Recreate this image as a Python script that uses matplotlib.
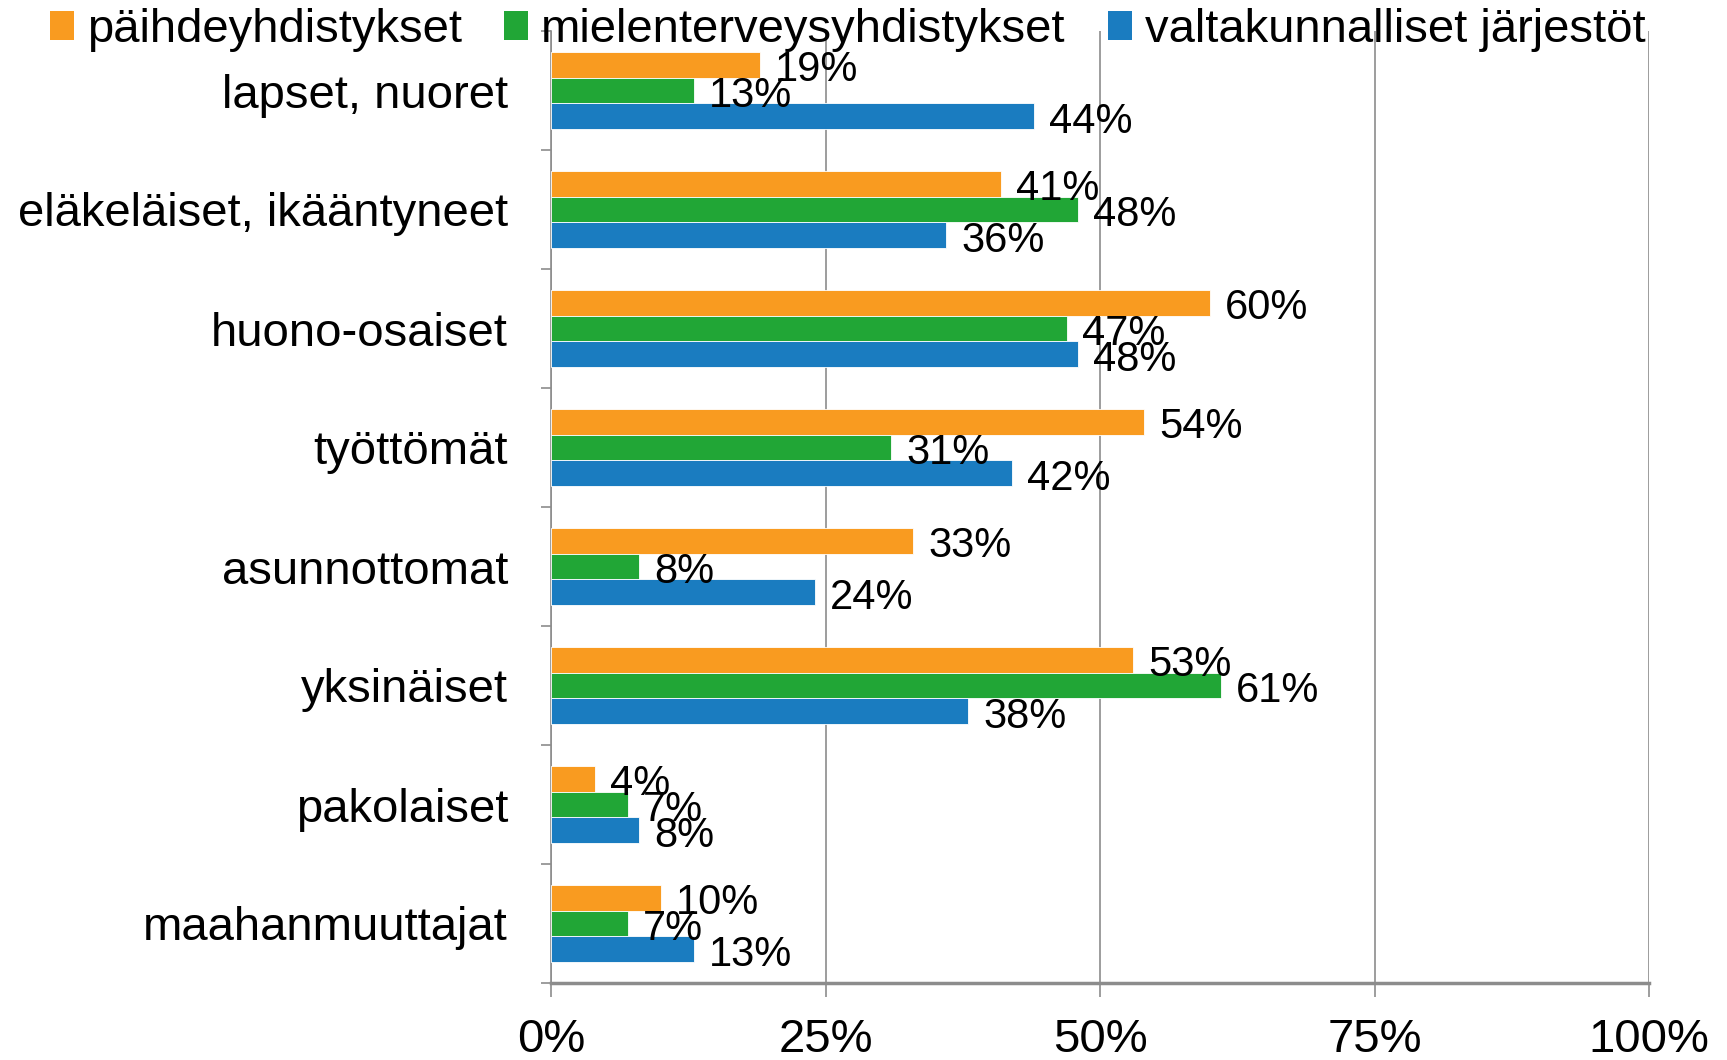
import numpy as np
import matplotlib as mpl
import matplotlib.pyplot as plt
from matplotlib.patches import Patch

mpl.use('Agg')

categories = ["lapset, nuoret", "eläkeläiset, ikääntyneet", "huono-osaiset",
              "työttömät", "asunnottomat", "yksinäiset", "pakolaiset",
              "maahanmuuttajat"]
series_names = ["päihdeyhdistykset", "mielenterveysyhdistykset",
                "valtakunnalliset järjestöt"]
paihde = [19, 41, 60, 54, 33, 53, 4, 10]
mielenterveys = [13, 48, 47, 31, 8, 61, 7, 7]
valtakunnalliset = [44, 36, 48, 42, 24, 38, 8, 13]
x_ticks = [0, 25, 50, 75, 100]

colors = ["#F99B20", "#21A636", "#1A7CC0"]
grid_col = "#8c8c8c"

plt.rcParams['font.family'] = ['Liberation Sans', 'DejaVu Sans']

fig = plt.figure(figsize=(17.27, 10.60), dpi=100)
ax = fig.add_axes([551 / 1727, 1 - 983 / 1060, (1649 - 551) / 1727, (983 - 31) / 1060])

y = np.arange(len(categories))
h = 0.216
for k, vals in enumerate([paihde, mielenterveys, valtakunnalliset]):
    pos = y + (k - 1) * h
    ax.barh(pos, vals, height=h, color=colors[k], edgecolor="white", linewidth=0.6, zorder=3)
    for p, v in zip(pos, vals):
        ax.annotate(f"{v}%", (v, p), xytext=(11, -4), textcoords="offset points",
                    ha="left", va="center", fontsize=30, color="black", zorder=4)

ax.set_xlim(0, 100)
ax.set_ylim(len(categories) - 0.5, -0.5)
ax.set_xticks(x_ticks)
ax.set_xticklabels([f"{t}%" for t in x_ticks], fontsize=34)
ax.tick_params(axis="x", length=10, width=1.2, color=grid_col, pad=15)
ax.grid(axis="x", color=grid_col, linewidth=1.2, zorder=0)
ax.set_axisbelow(True)

ax.set_yticks(y)
ax.set_yticklabels(categories, fontsize=34)
ax.set_yticks(np.arange(len(categories) + 1) - 0.5, minor=True)
ax.tick_params(axis="y", which="major", length=0, pad=31)
ax.tick_params(axis="y", which="minor", length=7, width=1.2, color=grid_col)

for side in ["top", "right"]:
    ax.spines[side].set_visible(False)
ax.spines["left"].set_color(grid_col)
ax.spines["left"].set_linewidth(1.2)
ax.spines["bottom"].set_color(grid_col)
ax.spines["bottom"].set_linewidth(2.5)

handles = [Patch(facecolor=c) for c in colors]
fig.legend(handles, series_names, loc="center left",
           bbox_to_anchor=(50 / 1727, 1 - 30 / 1060), ncol=3, frameon=False,
           fontsize=34, handlelength=0.5, handleheight=0.55, handletextpad=0.28,
           columnspacing=0.9, borderpad=0, borderaxespad=0)

fig.savefig("out.png", dpi=100)
